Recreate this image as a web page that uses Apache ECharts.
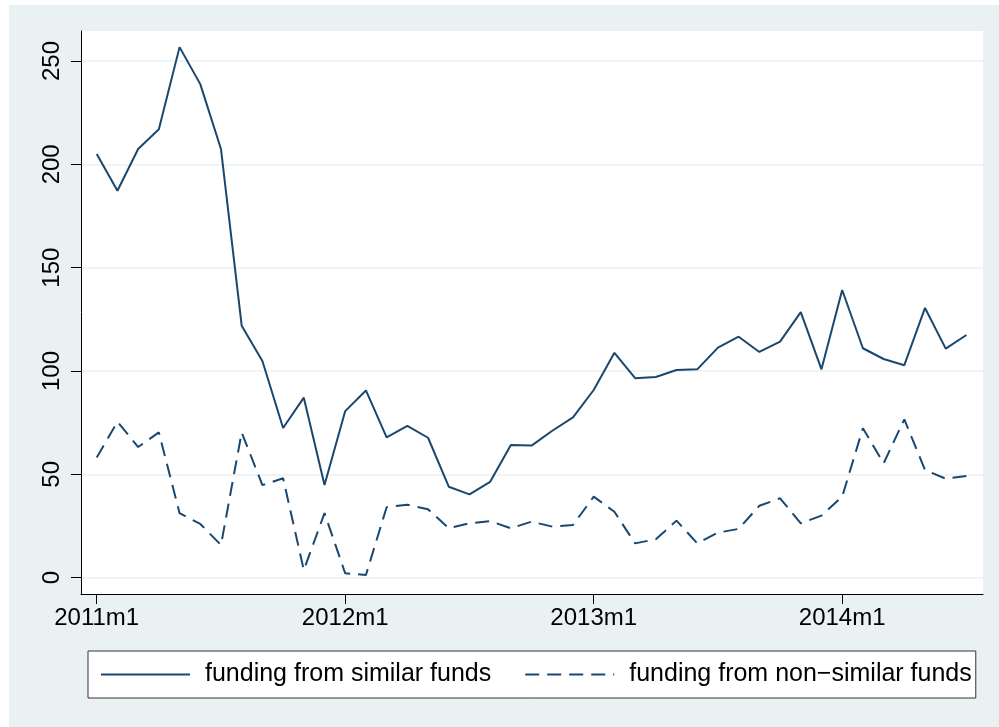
<!DOCTYPE html>
<html>
<head>
<meta charset="utf-8">
<script src="https://cdn.jsdelivr.net/npm/echarts@6/dist/echarts.min.js"></script>
<style>
  html, body { margin: 0; padding: 0; background: #ffffff; }
  #chart { width: 999px; height: 727px; }
</style>
</head>
<body>
<div id="chart"></div>
<script>
const months = [];
for (let y = 2011; y <= 2014; y++) {
  for (let m = 1; m <= 12; m++) {
    if (y === 2014 && m > 7) break;
    months.push(y + 'm' + m);
  }
}
const similarFunds = [
  205, 187.2, 207.4, 217, 256.7, 238.8, 207.4, 121.9, 104.8, 72.4, 87.1, 44.8,
  80.6, 90.6, 67.9, 73.4, 67.7, 44.0, 40.3, 46.4, 64.2, 63.9, 71.1, 77.6,
  90.8, 108.8, 96.5, 97.1, 100.5, 100.8, 111.3, 116.6, 109.2, 114.2, 128.5, 100.8,
  139.2, 111, 105.8, 102.8, 130.5, 110.8, 117.4
];
const nonSimilarFunds = [
  58.1, 75.5, 63.2, 70.3, 31.2, 26, 15.8, 70.3, 44.8, 48.1, 3.7, 31.2,
  2.1, 1.3, 34.1, 35.3, 33.1, 23.9, 26.3, 27.4, 23.9, 27.1, 24.7, 25.5,
  39.2, 31.9, 16.6, 18.6, 27.6, 16.6, 21.8, 23.6, 34.8, 38.4, 26.3, 30,
  39.2, 72.3, 55.3, 76.6, 52.1, 47.9, 49.2
];
const seriesNames = ['funding from similar funds', 'funding from non\u2212similar funds'];
const yTicks = [0, 50, 100, 150, 200, 250];
const xTickLabels = ['2011m1', '2012m1', '2013m1', '2014m1'];
const xTicks = xTickLabels.map(l => months.indexOf(l));

const FONT = "'Liberation Sans', Arial, Helvetica, sans-serif";
const NAVY = '#1a476f';
const BG = '#eaf1f3';

const chart = echarts.init(document.getElementById('chart'), null, { renderer: 'canvas' });
chart.setOption({
  animation: false,
  backgroundColor: '#ffffff',
  graphic: [{
    type: 'rect', z: -100, silent: true,
    shape: { x: 9, y: 5, width: 990, height: 722 },
    style: { fill: BG }
  }],
  grid: {
    left: 81, right: 16, top: 31, bottom: 133,
    show: true, backgroundColor: '#ffffff', borderWidth: 0
  },
  xAxis: {
    type: 'value', min: -0.76, max: 42.8,
    axisLine: { show: true, onZero: false, lineStyle: { color: '#000', width: 1 } },
    axisTick: { show: true, customValues: xTicks, length: 10, lineStyle: { color: '#000', width: 1 } },
    axisLabel: {
      customValues: xTicks, margin: 12, fontSize: 24, color: '#000', fontFamily: FONT,
      formatter: v => months[Math.round(v)]
    },
    splitLine: { show: false }
  },
  yAxis: {
    type: 'value', min: -7.9, max: 264.5,
    axisLine: { show: true, onZero: false, lineStyle: { color: '#000', width: 1 } },
    axisTick: { show: true, customValues: yTicks, length: 10, lineStyle: { color: '#000', width: 1 } },
    axisLabel: {
      customValues: yTicks, rotate: 90, margin: 17, fontSize: 24, color: '#000', fontFamily: FONT
    },
    splitLine: { show: true, lineStyle: { color: BG, width: 1.5 } }
  },
  legend: {
    left: 88, top: 651,
    padding: [11, 4, 11, 12],
    itemGap: 33, itemWidth: 89, itemHeight: 20,
    backgroundColor: '#fff', borderColor: '#333', borderWidth: 1,
    itemStyle: { opacity: 0 },
    textStyle: { fontSize: 25, color: '#000', fontFamily: FONT, padding: [0, 0, 0, 10] },
    data: seriesNames
  },
  series: [
    {
      name: seriesNames[0], type: 'line', symbol: 'none',
      data: similarFunds.map((v, i) => [i, v]),
      lineStyle: { color: NAVY, width: 2 }, itemStyle: { color: NAVY }
    },
    {
      name: seriesNames[1], type: 'line', symbol: 'none',
      data: nonSimilarFunds.map((v, i) => [i, v]),
      lineStyle: { color: NAVY, width: 2, type: [14, 8] }, itemStyle: { color: NAVY }
    }
  ]
});
</script>
</body>
</html>
